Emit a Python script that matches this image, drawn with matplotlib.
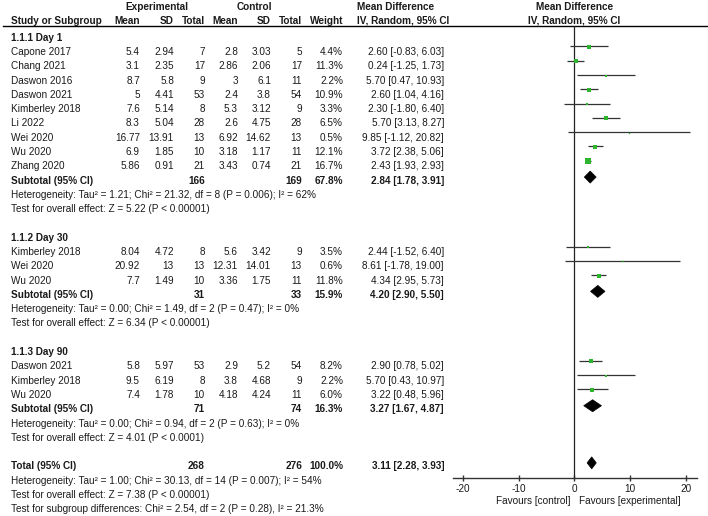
import numpy as np
import matplotlib
matplotlib.use("Agg")
import matplotlib.pyplot as plt
from matplotlib.patches import Polygon

plt.rcParams['font.family'] = ['Liberation Sans', 'DejaVu Sans']

# ---- data ----
g1_names = ["Capone 2017", "Chang 2021", "Daswon 2016", "Daswon 2021", "Kimberley 2018",
            "Li 2022", "Wei 2020", "Wu 2020", "Zhang 2020"]
g1_exp_mean = [5.4, 3.1, 8.7, 5, 7.6, 8.3, 16.77, 6.9, 5.86]
g1_exp_sd = [2.94, 2.35, 5.8, 4.41, 5.14, 5.04, 13.91, 1.85, 0.91]
g1_exp_n = [7, 17, 9, 53, 8, 28, 13, 10, 21]
g1_ctl_mean = [2.8, 2.86, 3, 2.4, 5.3, 2.6, 6.92, 3.18, 3.43]
g1_ctl_sd = [3.03, 2.06, 6.1, 3.8, 3.12, 4.75, 14.62, 1.17, 0.74]
g1_ctl_n = [5, 17, 11, 54, 9, 28, 13, 11, 21]
g1_weight = [4.4, 11.3, 2.2, 10.9, 3.3, 6.5, 0.5, 12.1, 16.7]
g1_md = [2.60, 0.24, 5.70, 2.60, 2.30, 5.70, 9.85, 3.72, 2.43]
g1_lo = [-0.83, -1.25, 0.47, 1.04, -1.80, 3.13, -1.12, 2.38, 1.93]
g1_hi = [6.03, 1.73, 10.93, 4.16, 6.40, 8.27, 20.82, 5.06, 2.93]

g2_names = ["Kimberley 2018", "Wei 2020", "Wu 2020"]
g2_exp_mean = [8.04, 20.92, 7.7]
g2_exp_sd = [4.72, 13, 1.49]
g2_exp_n = [8, 13, 10]
g2_ctl_mean = [5.6, 12.31, 3.36]
g2_ctl_sd = [3.42, 14.01, 1.75]
g2_ctl_n = [9, 13, 11]
g2_weight = [3.5, 0.6, 11.8]
g2_md = [2.44, 8.61, 4.34]
g2_lo = [-1.52, -1.78, 2.95]
g2_hi = [6.40, 19.00, 5.73]

g3_names = ["Daswon 2021", "Kimberley 2018", "Wu 2020"]
g3_exp_mean = [5.8, 9.5, 7.4]
g3_exp_sd = [5.97, 6.19, 1.78]
g3_exp_n = [53, 8, 10]
g3_ctl_mean = [2.9, 3.8, 4.18]
g3_ctl_sd = [5.2, 4.68, 4.24]
g3_ctl_n = [54, 9, 11]
g3_weight = [8.2, 2.2, 6.0]
g3_md = [2.90, 5.70, 3.22]
g3_lo = [0.78, 0.43, 0.48]
g3_hi = [5.02, 10.97, 5.96]

group_titles = ["1.1.1 Day 1", "1.1.2 Day 30", "1.1.3 Day 90"]
sub_exp_n = [166, 31, 71]
sub_ctl_n = [169, 33, 74]
sub_weight = [67.8, 15.9, 16.3]
sub_md = [2.84, 4.20, 3.27]
sub_lo = [1.78, 2.90, 1.67]
sub_hi = [3.91, 5.50, 4.87]
sub_het = ["Heterogeneity: Tau\u00b2 = 1.21; Chi\u00b2 = 21.32, df = 8 (P = 0.006); I\u00b2 = 62%",
           "Heterogeneity: Tau\u00b2 = 0.00; Chi\u00b2 = 1.49, df = 2 (P = 0.47); I\u00b2 = 0%",
           "Heterogeneity: Tau\u00b2 = 0.00; Chi\u00b2 = 0.94, df = 2 (P = 0.63); I\u00b2 = 0%"]
sub_test = ["Test for overall effect: Z = 5.22 (P < 0.00001)",
            "Test for overall effect: Z = 6.34 (P < 0.00001)",
            "Test for overall effect: Z = 4.01 (P < 0.0001)"]

tot_exp_n, tot_ctl_n, tot_weight = 268, 276, 100.0
tot_md, tot_lo, tot_hi = 3.11, 2.28, 3.93
tot_lines = ["Heterogeneity: Tau\u00b2 = 1.00; Chi\u00b2 = 30.13, df = 14 (P = 0.007); I\u00b2 = 54%",
             "Test for overall effect: Z = 7.38 (P < 0.00001)",
             "Test for subgroup differences: Chi\u00b2 = 2.54, df = 2 (P = 0.28), I\u00b2 = 21.3%"]

x_ticks = [-20, -10, 0, 10, 20]

groups = [
    (g1_names, g1_exp_mean, g1_exp_sd, g1_exp_n, g1_ctl_mean, g1_ctl_sd, g1_ctl_n, g1_weight, g1_md, g1_lo, g1_hi),
    (g2_names, g2_exp_mean, g2_exp_sd, g2_exp_n, g2_ctl_mean, g2_ctl_sd, g2_ctl_n, g2_weight, g2_md, g2_lo, g2_hi),
    (g3_names, g3_exp_mean, g3_exp_sd, g3_exp_n, g3_ctl_mean, g3_ctl_sd, g3_ctl_n, g3_weight, g3_md, g3_lo, g3_hi),
]

# ---- layout ----
W, H = 708, 516
FS = 7.2
TXT = '#1a1a1a'
GREEN = '#2db52d'
Y0, DY = 12.1, 14.29          # baseline of row r = Y0 + r*DY (pixels)
col_x = [140, 174, 205, 238, 271, 302, 343]   # right edges of numeric columns
ci_x = 444

def row_y(r):
    return Y0 + r * DY

fig = plt.figure(figsize=(W / 100, H / 100), dpi=100)
tax = fig.add_axes([0, 0, 1, 1])
tax.set_xlim(0, W)
tax.set_ylim(H, 0)
tax.axis('off')

# forest axes, y in row units
ax_l, ax_r, ax_top, ax_bot = 452.7, 696.7, 25.5, 477.7
fax = fig.add_axes([ax_l / W, 1 - ax_bot / H, (ax_r - ax_l) / W, (ax_bot - ax_top) / H])
fax.set_xlim(-21.9, 22.0)
fax.set_ylim((ax_bot - Y0) / DY, (ax_top - Y0) / DY)
fax.patch.set_alpha(0)
for s in ['top', 'right', 'left']:
    fax.spines[s].set_visible(False)
fax.spines['bottom'].set_color('#333333')
fax.spines['bottom'].set_linewidth(1.0)
fax.set_yticks([])
fax.set_xticks(x_ticks)
fax.set_xticklabels([str(t) for t in x_ticks])
fax.tick_params(axis='x', direction='inout', length=3.8, width=1.0, color='#333333',
                pad=2.6, labelsize=FS, labelcolor=TXT)
fax.axvline(0, color='#222222', lw=0.9)


def txt(x, r, s, ha='right', bold=False, y=None):
    tax.text(x, row_y(r) if y is None else y, s, ha=ha, va='baseline', fontsize=FS,
             color=TXT, fontweight='bold' if bold else 'normal')


def fmt(v):
    return f"{v:g}"


def diamond(est, lo, hi, r):
    yc = r - 0.455
    h = 0.42
    fax.add_patch(Polygon([(lo, yc), (est, yc - h), (hi, yc), (est, yc + h)],
                          closed=True, facecolor='black', edgecolor='black', lw=0.5))


# headers
hy0, hy1 = 10.3, 23.5
tax.text(157, hy0, "Experimental", ha='center', va='baseline', fontsize=FS, fontweight='bold', color=TXT)
tax.text(254, hy0, "Control", ha='center', va='baseline', fontsize=FS, fontweight='bold', color=TXT)
tax.text(357, hy0, "Mean Difference", ha='left', va='baseline', fontsize=FS, fontweight='bold', color=TXT)
tax.text(574.5, hy0, "Mean Difference", ha='center', va='baseline', fontsize=FS, fontweight='bold', color=TXT)
txt(11, 0, "Study or Subgroup", ha='left', bold=True, y=hy1)
for x, s in zip(col_x, ["Mean", "SD", "Total", "Mean", "SD", "Total", "Weight"]):
    txt(x, 0, s, bold=True, y=hy1)
txt(357, 0, "IV, Random, 95% CI", ha='left', bold=True, y=hy1)
txt(574.5, 0, "IV, Random, 95% CI", ha='center', bold=True, y=hy1)
tax.plot([3, W], [25.5, 25.5], color='black', lw=1.0)

# body
r = 2
for gi, g in enumerate(groups):
    names, em, es, en, cm, cs, cn, w, md, lo, hi = g
    txt(11, r, group_titles[gi], ha='left', bold=True)
    r += 1
    for i in range(len(names)):
        txt(11, r, names[i], ha='left')
        vals = [fmt(em[i]), fmt(es[i]), str(en[i]), fmt(cm[i]), fmt(cs[i]), str(cn[i]), f"{w[i]:.1f}%"]
        for x, s in zip(col_x, vals):
            txt(x, r, s)
        txt(ci_x, r, f"{md[i]:.2f} [{lo[i]:.2f}, {hi[i]:.2f}]")
        yl = r - 0.595
        fax.plot([lo[i], hi[i]], [yl, yl], color='#333333', lw=0.9, solid_capstyle='butt')
        side = 1.3 * np.sqrt(w[i]) + 0.4
        fax.plot(md[i], yl + 0.04, marker='s', ms=side * 0.72, color=GREEN, mec=GREEN, mew=0)
        r += 1
    txt(11, r, "Subtotal (95% CI)", ha='left', bold=True)
    txt(col_x[2], r, str(sub_exp_n[gi]), bold=True)
    txt(col_x[5], r, str(sub_ctl_n[gi]), bold=True)
    txt(col_x[6], r, f"{sub_weight[gi]:.1f}%", bold=True)
    txt(ci_x, r, f"{sub_md[gi]:.2f} [{sub_lo[gi]:.2f}, {sub_hi[gi]:.2f}]", bold=True)
    diamond(sub_md[gi], sub_lo[gi], sub_hi[gi], r)
    r += 1
    txt(11, r, sub_het[gi], ha='left')
    r += 1
    txt(11, r, sub_test[gi], ha='left')
    r += 2

# total
txt(11, r, "Total (95% CI)", ha='left', bold=True)
txt(col_x[2], r, str(tot_exp_n), bold=True)
txt(col_x[5], r, str(tot_ctl_n), bold=True)
txt(col_x[6], r, f"{tot_weight:.1f}%", bold=True)
txt(ci_x, r, f"{tot_md:.2f} [{tot_lo:.2f}, {tot_hi:.2f}]", bold=True)
diamond(tot_md, tot_lo, tot_hi, r)
for line in tot_lines:
    r += 1
    txt(11, r, line, ha='left')

# favours labels
tax.text(570, 504.5, "Favours [control]", ha='right', va='baseline', fontsize=FS, color=TXT)
tax.text(579, 504.5, "Favours [experimental]", ha='left', va='baseline', fontsize=FS, color=TXT)

fig.savefig("out.png", dpi=100)
